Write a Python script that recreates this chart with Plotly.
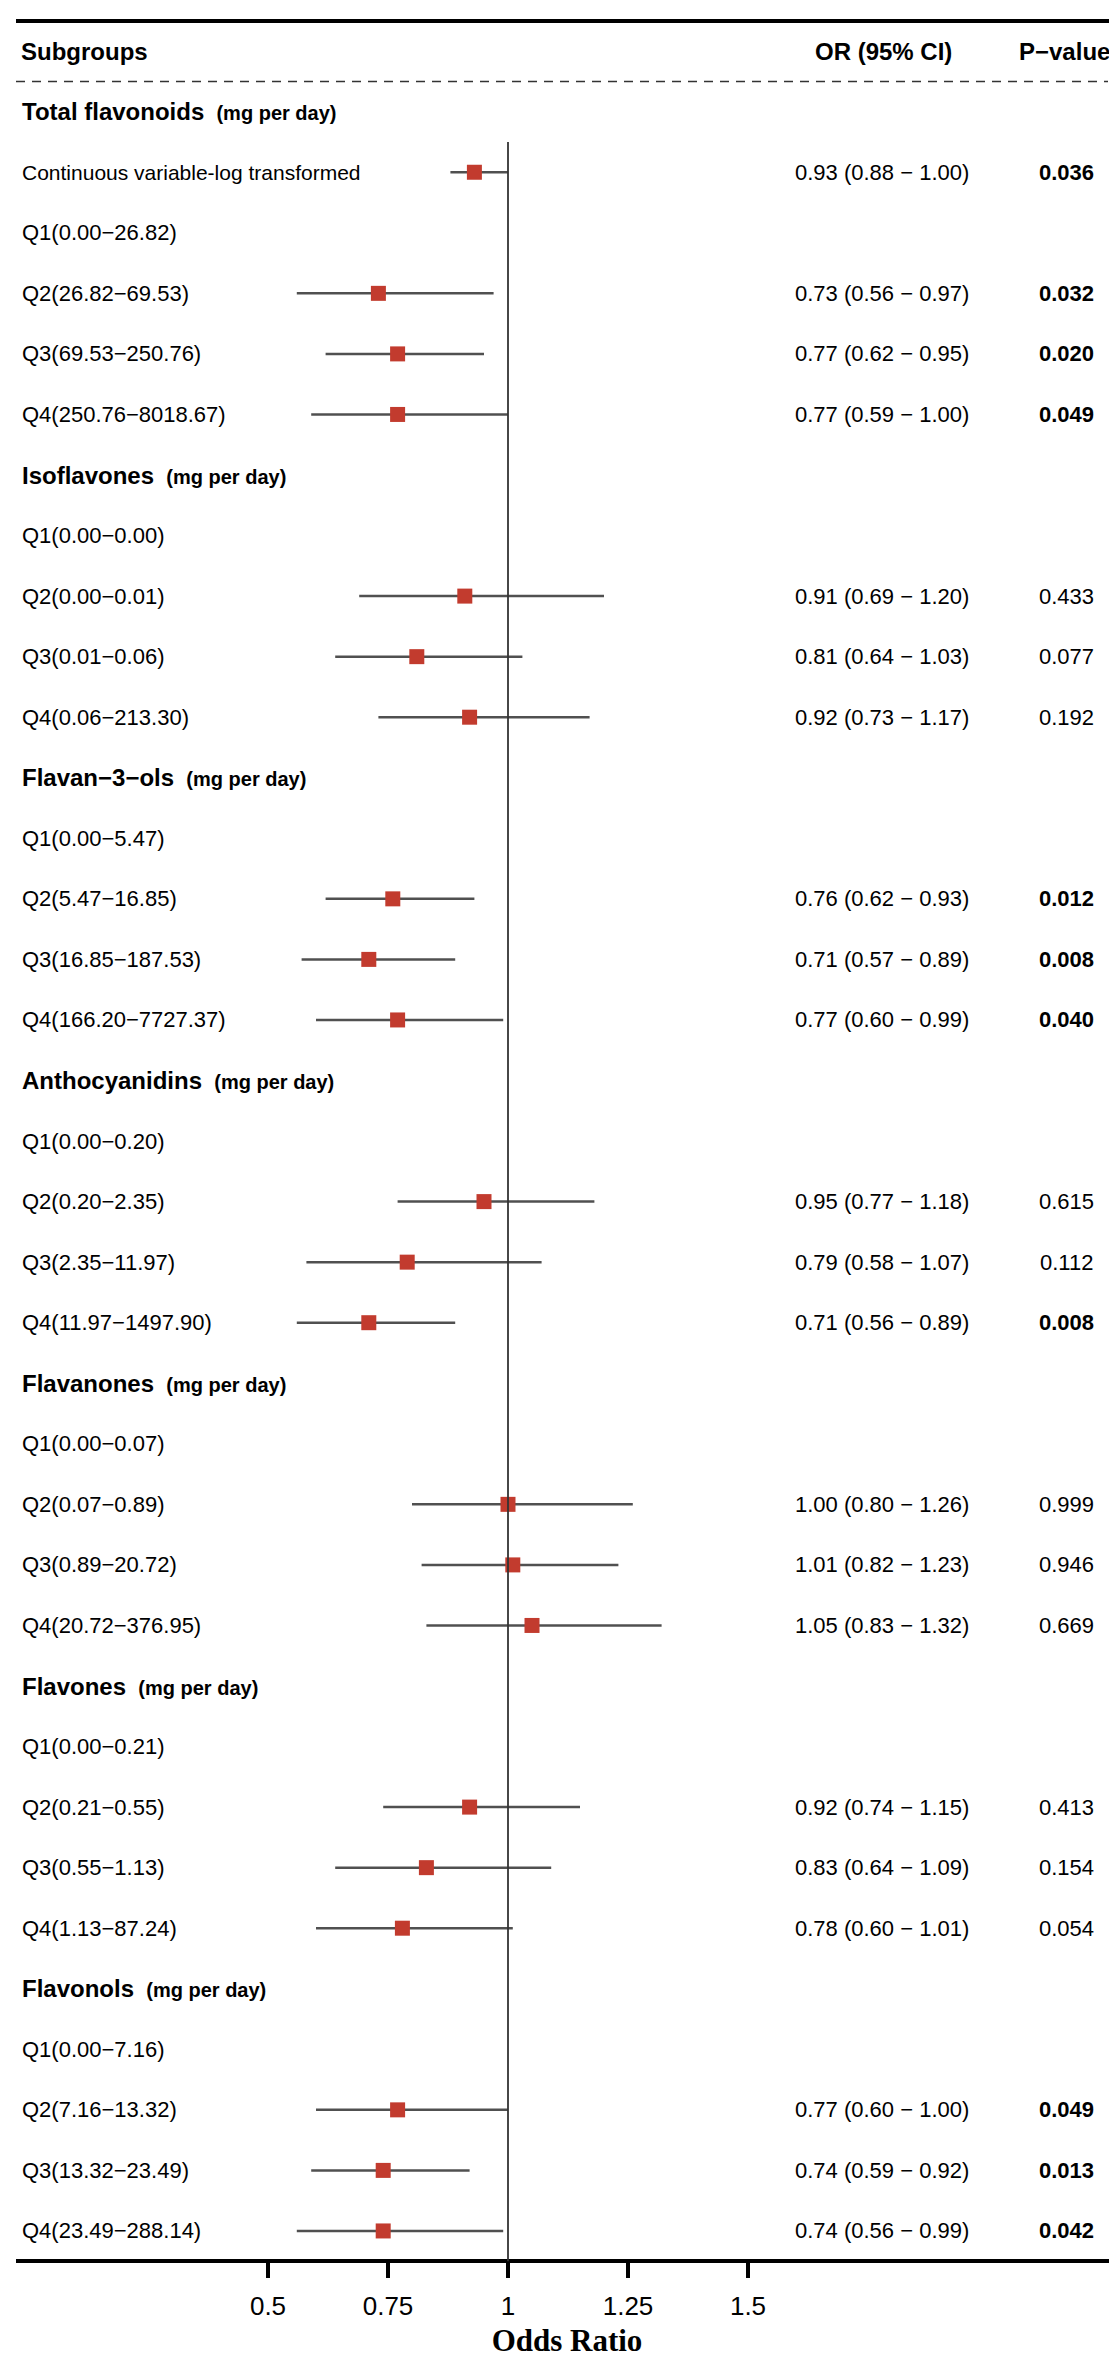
import plotly.graph_objects as go

# ---------------- data ----------------
row_labels = [
    "Total flavonoids", "Continuous variable-log transformed",
    "Q1(0.00−26.82)", "Q2(26.82−69.53)", "Q3(69.53−250.76)", "Q4(250.76−8018.67)",
    "Isoflavones", "Q1(0.00−0.00)", "Q2(0.00−0.01)", "Q3(0.01−0.06)", "Q4(0.06−213.30)",
    "Flavan−3−ols", "Q1(0.00−5.47)", "Q2(5.47−16.85)", "Q3(16.85−187.53)", "Q4(166.20−7727.37)",
    "Anthocyanidins", "Q1(0.00−0.20)", "Q2(0.20−2.35)", "Q3(2.35−11.97)", "Q4(11.97−1497.90)",
    "Flavanones", "Q1(0.00−0.07)", "Q2(0.07−0.89)", "Q3(0.89−20.72)", "Q4(20.72−376.95)",
    "Flavones", "Q1(0.00−0.21)", "Q2(0.21−0.55)", "Q3(0.55−1.13)", "Q4(1.13−87.24)",
    "Flavonols", "Q1(0.00−7.16)", "Q2(7.16−13.32)", "Q3(13.32−23.49)", "Q4(23.49−288.14)",
]
is_header = [
    True, False, False, False, False, False,
    True, False, False, False, False,
    True, False, False, False, False,
    True, False, False, False, False,
    True, False, False, False, False,
    True, False, False, False, False,
    True, False, False, False, False,
]
or_vals = [
    None, 0.93, None, 0.73, 0.77, 0.77,
    None, None, 0.91, 0.81, 0.92,
    None, None, 0.76, 0.71, 0.77,
    None, None, 0.95, 0.79, 0.71,
    None, None, 1.00, 1.01, 1.05,
    None, None, 0.92, 0.83, 0.78,
    None, None, 0.77, 0.74, 0.74,
]
ci_low = [
    None, 0.88, None, 0.56, 0.62, 0.59,
    None, None, 0.69, 0.64, 0.73,
    None, None, 0.62, 0.57, 0.60,
    None, None, 0.77, 0.58, 0.56,
    None, None, 0.80, 0.82, 0.83,
    None, None, 0.74, 0.64, 0.60,
    None, None, 0.60, 0.59, 0.56,
]
ci_high = [
    None, 1.00, None, 0.97, 0.95, 1.00,
    None, None, 1.20, 1.03, 1.17,
    None, None, 0.93, 0.89, 0.99,
    None, None, 1.18, 1.07, 0.89,
    None, None, 1.26, 1.23, 1.32,
    None, None, 1.15, 1.09, 1.01,
    None, None, 1.00, 0.92, 0.99,
]
p_vals = [
    None, "0.036", None, "0.032", "0.020", "0.049",
    None, None, "0.433", "0.077", "0.192",
    None, None, "0.012", "0.008", "0.040",
    None, None, "0.615", "0.112", "0.008",
    None, None, "0.999", "0.946", "0.669",
    None, None, "0.413", "0.154", "0.054",
    None, None, "0.049", "0.013", "0.042",
]
tick_vals = [0.5, 0.75, 1, 1.25, 1.5]
tick_text = ["0.5", "0.75", "1", "1.25", "1.5"]

# ---------------- layout constants ----------------
W, H = 1117, 2363
ROW0_PX, ROW_PX = 103.7, 60.55
ML, MR = 8, 7
X1_PX, PX_PER_UNIT = 500, 480
SANS = "Liberation Sans, Arial, Helvetica, sans-serif"
RED = "#C23B2E"
GREY = "#505050"

n = len(row_labels)
rows = list(range(n))

x_lo = 1 - (X1_PX - ML) / PX_PER_UNIT
x_hi = 1 + (W - MR - X1_PX) / PX_PER_UNIT
y_top = -ROW0_PX / ROW_PX
y_bot = (H - ROW0_PX) / ROW_PX
axis_row = n - 0.5
axis_pos = 1 - (ROW0_PX + axis_row * ROW_PX) / H

def xpaper(px):
    return (px - ML) / (W - ML - MR)

fig = go.Figure()

# CI lines
lx, ly = [], []
for r, lo, hi in zip(rows, ci_low, ci_high):
    if lo is not None:
        lx += [lo, hi, None]
        ly += [r, r, None]
fig.add_trace(go.Scatter(x=lx, y=ly, mode="lines",
                         line=dict(color=GREY, width=2.5),
                         hoverinfo="skip", showlegend=False))
# point estimates
px_, py_ = [], []
for r, v in zip(rows, or_vals):
    if v is not None:
        px_.append(v)
        py_.append(r)
fig.add_trace(go.Scatter(x=px_, y=py_, mode="markers",
                         marker=dict(symbol="square", size=15, color=RED,
                                     line=dict(width=0)),
                         showlegend=False))

annotations = []
# column headers
annotations.append(dict(x=xpaper(11), y=-1, xref="paper", yref="y", xanchor="left",
                        text="<b>Subgroups</b>", showarrow=False,
                        font=dict(family=SANS, size=24, color="black")))
annotations.append(dict(x=xpaper(875), y=-1, xref="paper", yref="y", xanchor="center",
                        text="<b>OR (95% CI)</b>", showarrow=False,
                        font=dict(family=SANS, size=24, color="black")))
annotations.append(dict(x=xpaper(1056), y=-1, xref="paper", yref="y", xanchor="center",
                        text="<b>P−value</b>", showarrow=False,
                        font=dict(family=SANS, size=24, color="black")))

for r in rows:
    lab = row_labels[r]
    if is_header[r]:
        txt = ("<b>" + lab + "</b> <span style=\"font-size:20px\"><b> (mg per day)</b></span>")
        annotations.append(dict(x=xpaper(12), y=r, xref="paper", yref="y", xanchor="left",
                                text=txt, showarrow=False,
                                font=dict(family=SANS, size=24, color="black")))
    else:
        size = 21 if lab.startswith("Continuous") else 22
        annotations.append(dict(x=xpaper(12), y=r, xref="paper", yref="y", xanchor="left",
                                text=lab, showarrow=False,
                                font=dict(family=SANS, size=size, color="black")))
    if or_vals[r] is not None:
        ci_txt = f"{or_vals[r]:.2f} ({ci_low[r]:.2f} − {ci_high[r]:.2f})"
        annotations.append(dict(x=xpaper(874), y=r, xref="paper", yref="y", xanchor="center",
                                text=ci_txt, showarrow=False,
                                font=dict(family=SANS, size=22, color="black")))
        p = p_vals[r]
        ptxt = f"<b>{p}</b>" if float(p) < 0.05 else p
        annotations.append(dict(x=xpaper(1058), y=r, xref="paper", yref="y", xanchor="center",
                                text=ptxt, showarrow=False,
                                font=dict(family=SANS, size=22, color="black")))

shapes = [
    # top rule
    dict(type="line", xref="paper", yref="y", x0=0, x1=1, y0=-1.5, y1=-1.5,
         line=dict(color="black", width=4)),
    # dashed rule
    dict(type="line", xref="paper", yref="y", x0=0, x1=xpaper(1100), y0=-0.5, y1=-0.5,
         line=dict(color="#333333", width=1.5, dash="9px,7px")),
    # reference line at OR = 1
    dict(type="line", xref="x", yref="y", x0=1, x1=1, y0=0.5, y1=axis_row,
         line=dict(color="#333333", width=1.8)),
]

fig.update_layout(
    width=W, height=H,
    margin=dict(l=ML, r=MR, t=0, b=0),
    paper_bgcolor="white", plot_bgcolor="white",
    showlegend=False,
    annotations=annotations,
    shapes=shapes,
    xaxis=dict(range=[x_lo, x_hi], anchor="free", position=axis_pos,
               showline=True, linecolor="black", linewidth=4,
               ticks="outside", ticklen=15, tickwidth=3.5, tickcolor="black",
               tickvals=tick_vals, ticktext=tick_text, showgrid=False, zeroline=False,
               tickfont=dict(family=SANS, size=26, color="black"),
               ticklabelstandoff=6,
               title=dict(text="<b>Odds Ratio</b>", standoff=8,
                          font=dict(family="Liberation Serif, Times New Roman, serif",
                                    size=31, color="black"))),
    yaxis=dict(range=[y_bot, y_top], visible=False, showgrid=False, zeroline=False),
)

fig.write_html("out.html")
